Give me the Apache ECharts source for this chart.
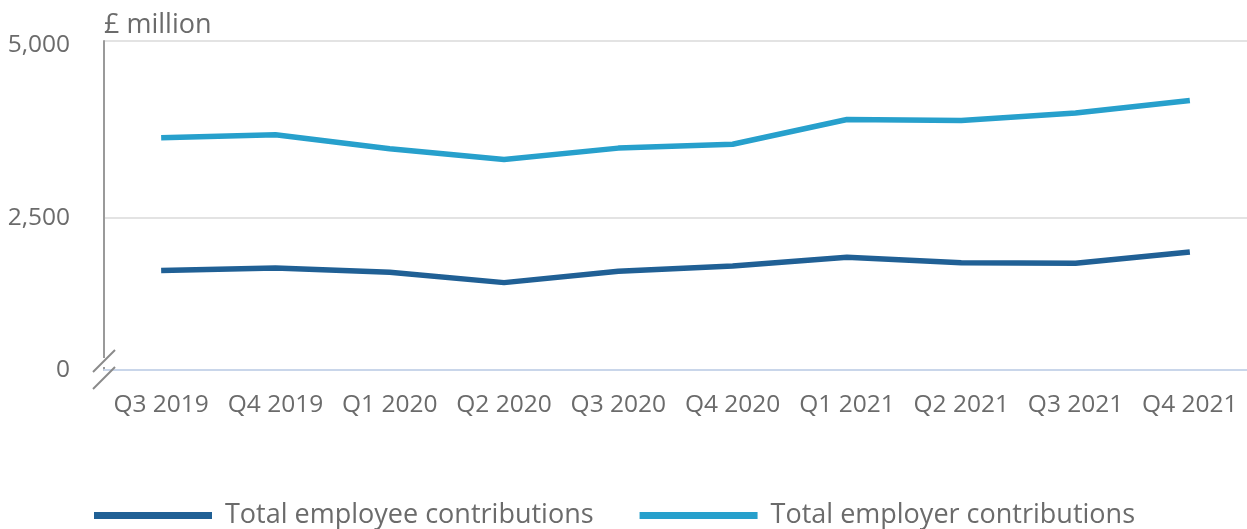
<!DOCTYPE html>
<html>
<head>
<meta charset="utf-8">
<script src="https://cdn.jsdelivr.net/npm/echarts@6/dist/echarts.min.js"></script>
<style>
html,body{margin:0;padding:0;background:#fff;}
#chart{width:1247px;height:529px;}
</style>
</head>
<body>
<div id="chart"></div>
<script>
const categories = ['Q3 2019','Q4 2019','Q1 2020','Q2 2020','Q3 2020','Q4 2020','Q1 2021','Q2 2021','Q3 2021','Q4 2021'];
const employeeContributions = [1757, 1792, 1732, 1585, 1746, 1821, 1944, 1867, 1859, 2019];
const employerContributions = [3632, 3674, 3476, 3325, 3486, 3540, 3891, 3877, 3982, 4160];
const yTickValues = [350, 2500, 5000];
const yMin = 350;
const yMax = 5000;

const textColor = '#6b6b6b';
const font = '"Open Sans", "Noto Sans", sans-serif';

const chart = echarts.init(document.getElementById('chart'), null, {renderer: 'canvas'});
chart.setOption({
  animation: false,
  backgroundColor: '#ffffff',
  textStyle: {fontFamily: font},
  grid: {left: 104, top: 41, width: 1148, bottom: 159, containLabel: false},
  legend: {
    left: 89, top: 497,
    icon: 'rect', itemWidth: 118, itemHeight: 7, itemGap: 46,
    textStyle: {fontSize: 27, color: textColor, fontFamily: font, padding: [0, 0, 0, 8]},
    data: ['Total employee contributions', 'Total employer contributions']
  },
  xAxis: {
    type: 'category',
    data: categories,
    boundaryGap: true,
    axisLine: {lineStyle: {color: '#c9d6ea', width: 2}},
    axisTick: {alignWithLabel: true, length: 22, lineStyle: {color: '#c9d6ea', width: 2}},
    axisLabel: {fontSize: 24.5, color: textColor, margin: 23, fontFamily: font, interval: 0}
  },
  yAxis: {
    type: 'value',
    min: yMin, max: yMax,
    name: '£ million',
    nameLocation: 'end',
    nameGap: 2,
    nameTextStyle: {fontSize: 27, color: textColor, align: 'left', verticalAlign: 'bottom', fontFamily: font, padding: [0,0,0,0]},
    axisLine: {show: true, lineStyle: {color: '#9a9a9a', width: 2}},
    axisTick: {show: false, customValues: yTickValues},
    axisLabel: {
      fontSize: 24.5, color: textColor, margin: 34, fontFamily: font,
      customValues: yTickValues,
      formatter: v => v < 1000 ? '0' : (v >= yMax ? '{top|' + v.toLocaleString('en-GB') + '}' : v.toLocaleString('en-GB')),
      rich: {top: {fontSize: 24.5, color: textColor, fontFamily: font, padding: [8, 0, 0, 0]}}
    },
    splitLine: {show: true, lineStyle: {color: '#e3e3e3', width: 2}}
  },
  series: [
    {name: 'Total employee contributions', type: 'line', data: employeeContributions,
     showSymbol: false, symbol: 'none', lineStyle: {color: '#206095', width: 5.5}, itemStyle: {color: '#206095'}},
    {name: 'Total employer contributions', type: 'line', data: employerContributions,
     showSymbol: false, symbol: 'none', lineStyle: {color: '#27a0cc', width: 5.5}, itemStyle: {color: '#27a0cc'}}
  ]
});

// axis break marks ("//") on the y axis near its base
const baseY = chart.convertToPixel({yAxisIndex: 0}, yMin);
const axisX = 104;
chart.setOption({
  graphic: [
    {type: 'rect', shape: {x: axisX - 3, y: baseY - 12, width: 6, height: 9}, style: {fill: '#ffffff'}, z: 100},
    {type: 'line', shape: {x1: axisX - 11, y1: baseY + 2, x2: axisX + 11, y2: baseY - 20}, style: {stroke: '#8a8a8a', lineWidth: 2}, z: 101},
    {type: 'line', shape: {x1: axisX - 11, y1: baseY + 19, x2: axisX + 11, y2: baseY - 3}, style: {stroke: '#8a8a8a', lineWidth: 2}, z: 101}
  ]
});
</script>
</body>
</html>
